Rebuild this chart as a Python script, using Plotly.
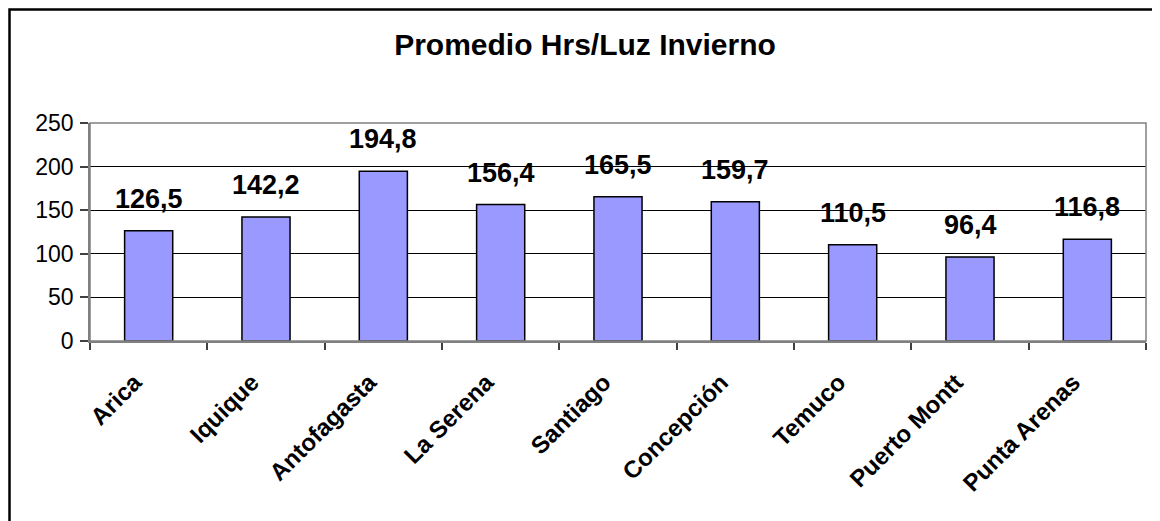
import plotly.graph_objects as go

categories = ["Arica", "Iquique", "Antofagasta", "La Serena", "Santiago",
              "Concepción", "Temuco", "Puerto Montt", "Punta Arenas"]
values = [126.5, 142.2, 194.8, 156.4, 165.5, 159.7, 110.5, 96.4, 116.8]
labels = ["126,5", "142,2", "194,8", "156,4", "165,5", "159,7", "110,5", "96,4", "116,8"]
y_ticks = [0, 50, 100, 150, 200, 250]
title_text = "Promedio Hrs/Luz Invierno"

FONT = "Liberation Sans, Arial, sans-serif"

W, H = 1160, 521
ML, MR, MT, MB = 82, 22, 115, 188
PW, PH = W - ML - MR, H - MT - MB

fig = go.Figure()
fig.add_trace(go.Bar(
    x=categories, y=values,
    marker=dict(color="#9999FF", line=dict(color="#000000", width=1.5)),
    hoverinfo="x+y",
))

for c, v, t in zip(categories, values, labels):
    fig.add_annotation(x=c, y=v, text="<b>%s</b>" % t, showarrow=False,
                       yanchor="bottom", yshift=15,
                       font=dict(family=FONT, size=27, color="#000000"))

fig.update_layout(
    width=W, height=H,
    margin=dict(l=ML, r=MR, t=MT, b=MB, autoexpand=False),
    paper_bgcolor="#FFFFFF", plot_bgcolor="#FFFFFF",
    showlegend=False, bargap=0.59,
    title=dict(text="<b>%s</b>" % title_text, x=577 / W, xanchor="center",
               y=1 - 36 / H, yanchor="middle",
               font=dict(family=FONT, size=30, color="#000000")),
    font=dict(family=FONT, color="#000000"),
)

fig.update_xaxes(
    type="category", range=[-0.5, 8.5],
    tickangle=-45, tickfont=dict(family=FONT, size=24, color="#000000"),
    tickprefix="<b>", ticksuffix="&nbsp;&nbsp;&nbsp;</b>",
    showline=True, linecolor="#808080", linewidth=1.5,
    ticks="outside", tickson="boundaries", ticklen=7, tickcolor="#404040", tickwidth=1.5,
    showgrid=False, ticklabelstandoff=2,
)
fig.update_yaxes(
    range=[0, 250], tickvals=y_ticks,
    tickfont=dict(family=FONT, size=23, color="#000000"),
    showline=True, linecolor="#808080", linewidth=1.5,
    ticks="outside", ticklen=8, tickcolor="#404040", tickwidth=1.5,
    showgrid=True, gridcolor="#000000", gridwidth=1,
    zeroline=False, ticklabelstandoff=2,
)

# plot area border (top/right gray)
fig.add_shape(type="rect", xref="paper", yref="paper", x0=0, x1=1, y0=0, y1=1,
              line=dict(color="#808080", width=1.5), layer="above")
# outer chart frame (left/top visible)
fig.add_shape(type="rect", xref="paper", yref="paper",
              x0=(1.5 - ML) / PW, x1=(W + 20 - ML) / PW,
              y0=-(MB + 20) / PH, y1=(PH + MT - 1.5) / PH,
              line=dict(color="#000000", width=2.5), layer="above")

fig.write_html("out.html")
